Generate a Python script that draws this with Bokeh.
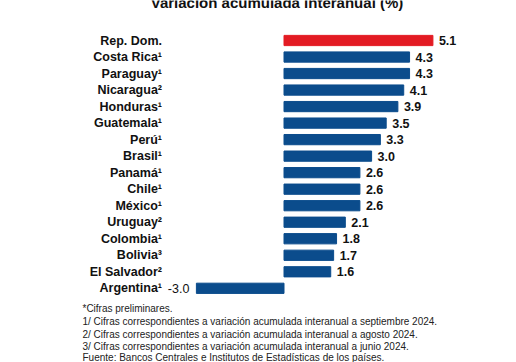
from bokeh.plotting import figure
from bokeh.models import ColumnDataSource, Range1d, Label
from bokeh.core.properties import value
from bokeh.embed import file_html
from bokeh.resources import INLINE

title_text = "Variación acumulada interanual (%)"
countries = ["Rep. Dom.", "Costa Rica¹", "Paraguay¹", "Nicaragua²", "Honduras¹",
             "Guatemala¹", "Perú¹", "Brasil¹", "Panamá¹", "Chile¹", "México¹",
             "Uruguay²", "Colombia¹", "Bolivia³", "El Salvador²", "Argentina¹"]
values = [5.1, 4.3, 4.3, 4.1, 3.9, 3.5, 3.3, 3.0, 2.6, 2.6, 2.6, 2.1, 1.8, 1.7, 1.6, -3.0]
highlight = "Rep. Dom."
notes = [
    "*Cifras preliminares.",
    " 1/ Cifras correspondientes a variación acumulada interanual a septiembre 2024.",
    " 2/ Cifras correspondientes a variación acumulada interanual a agosto 2024.",
    " 3/ Cifras correspondientes a variación acumulada interanual a junio 2024.",
    " Fuente: Bancos Centrales e Institutos de Estadísticas de los países.",
]

RED = "#E31B23"
BLUE = "#0B4C8C"
FONT = "Liberation Sans"

W, H = 516, 362
ZERO_PX = 283.5          # zero line, canvas px
PX_PER_UNIT = 29.2
ROW0_PX = 40.0           # centre of first row, canvas px
ROW_PX = 16.52           # row spacing

x_start = -ZERO_PX / PX_PER_UNIT
x_end = (W - ZERO_PX) / PX_PER_UNIT
y_top = -ROW0_PX / ROW_PX
y_bot = (H - ROW0_PX) / ROW_PX

p = figure(width=W, height=H, output_backend="svg", toolbar_location=None,
           x_range=Range1d(x_start, x_end), y_range=Range1d(y_bot, y_top),
           min_border=0, outline_line_color=None)
p.axis.visible = False
p.grid.visible = False

ys = list(range(len(countries)))
colors = [RED if c == highlight else BLUE for c in countries]
src = ColumnDataSource(dict(y=ys, country=countries, value=values, color=colors))
p.hbar(y="y", left=0, right="value", height=0.62, color="color", source=src)

# category labels
p.text(x=0, y="y", text="country", source=src, x_offset=-122,
       text_align="right", text_baseline="middle",
       text_font=value(FONT), text_font_style="bold", text_font_size="12.5px",
       text_color="#111111")

pos = [i for i, v in enumerate(values) if v >= 0]
neg = [i for i, v in enumerate(values) if v < 0]
src_pos = ColumnDataSource(dict(y=[ys[i] for i in pos], x=[values[i] for i in pos],
                                t=[f"{values[i]:.1f}" for i in pos]))
src_neg = ColumnDataSource(dict(y=[ys[i] for i in neg], x=[values[i] for i in neg],
                                t=[f"{values[i]:.1f}" for i in neg]))
p.text(x="x", y="y", text="t", source=src_pos, x_offset=6,
       text_align="left", text_baseline="middle",
       text_font=value(FONT), text_font_style="bold", text_font_size="12.5px",
       text_color="#111111")
p.text(x="x", y="y", text="t", source=src_neg, x_offset=-7,
       text_align="right", text_baseline="middle",
       text_font=value(FONT), text_font_size="12.5px", text_color="#111111")

# title (partly above the top edge, as in the reference)
p.add_layout(Label(x=276.5, y=H - 2.0, x_units="screen", y_units="screen",
                   text=title_text, text_align="center", text_baseline="middle",
                   text_font=FONT, text_font_style="bold", text_font_size="15px",
                   text_color="#111111"))

# footnotes
note_y = [308.3, 321, 334, 346, 356.7]
for t, yy in zip(notes, note_y):
    p.add_layout(Label(x=82, y=H - yy, x_units="screen", y_units="screen",
                       text=t, text_align="left", text_baseline="middle",
                       text_font=FONT, text_font_size="10px", text_color="#222222"))

open("out.html", "w").write(file_html(p, INLINE))
